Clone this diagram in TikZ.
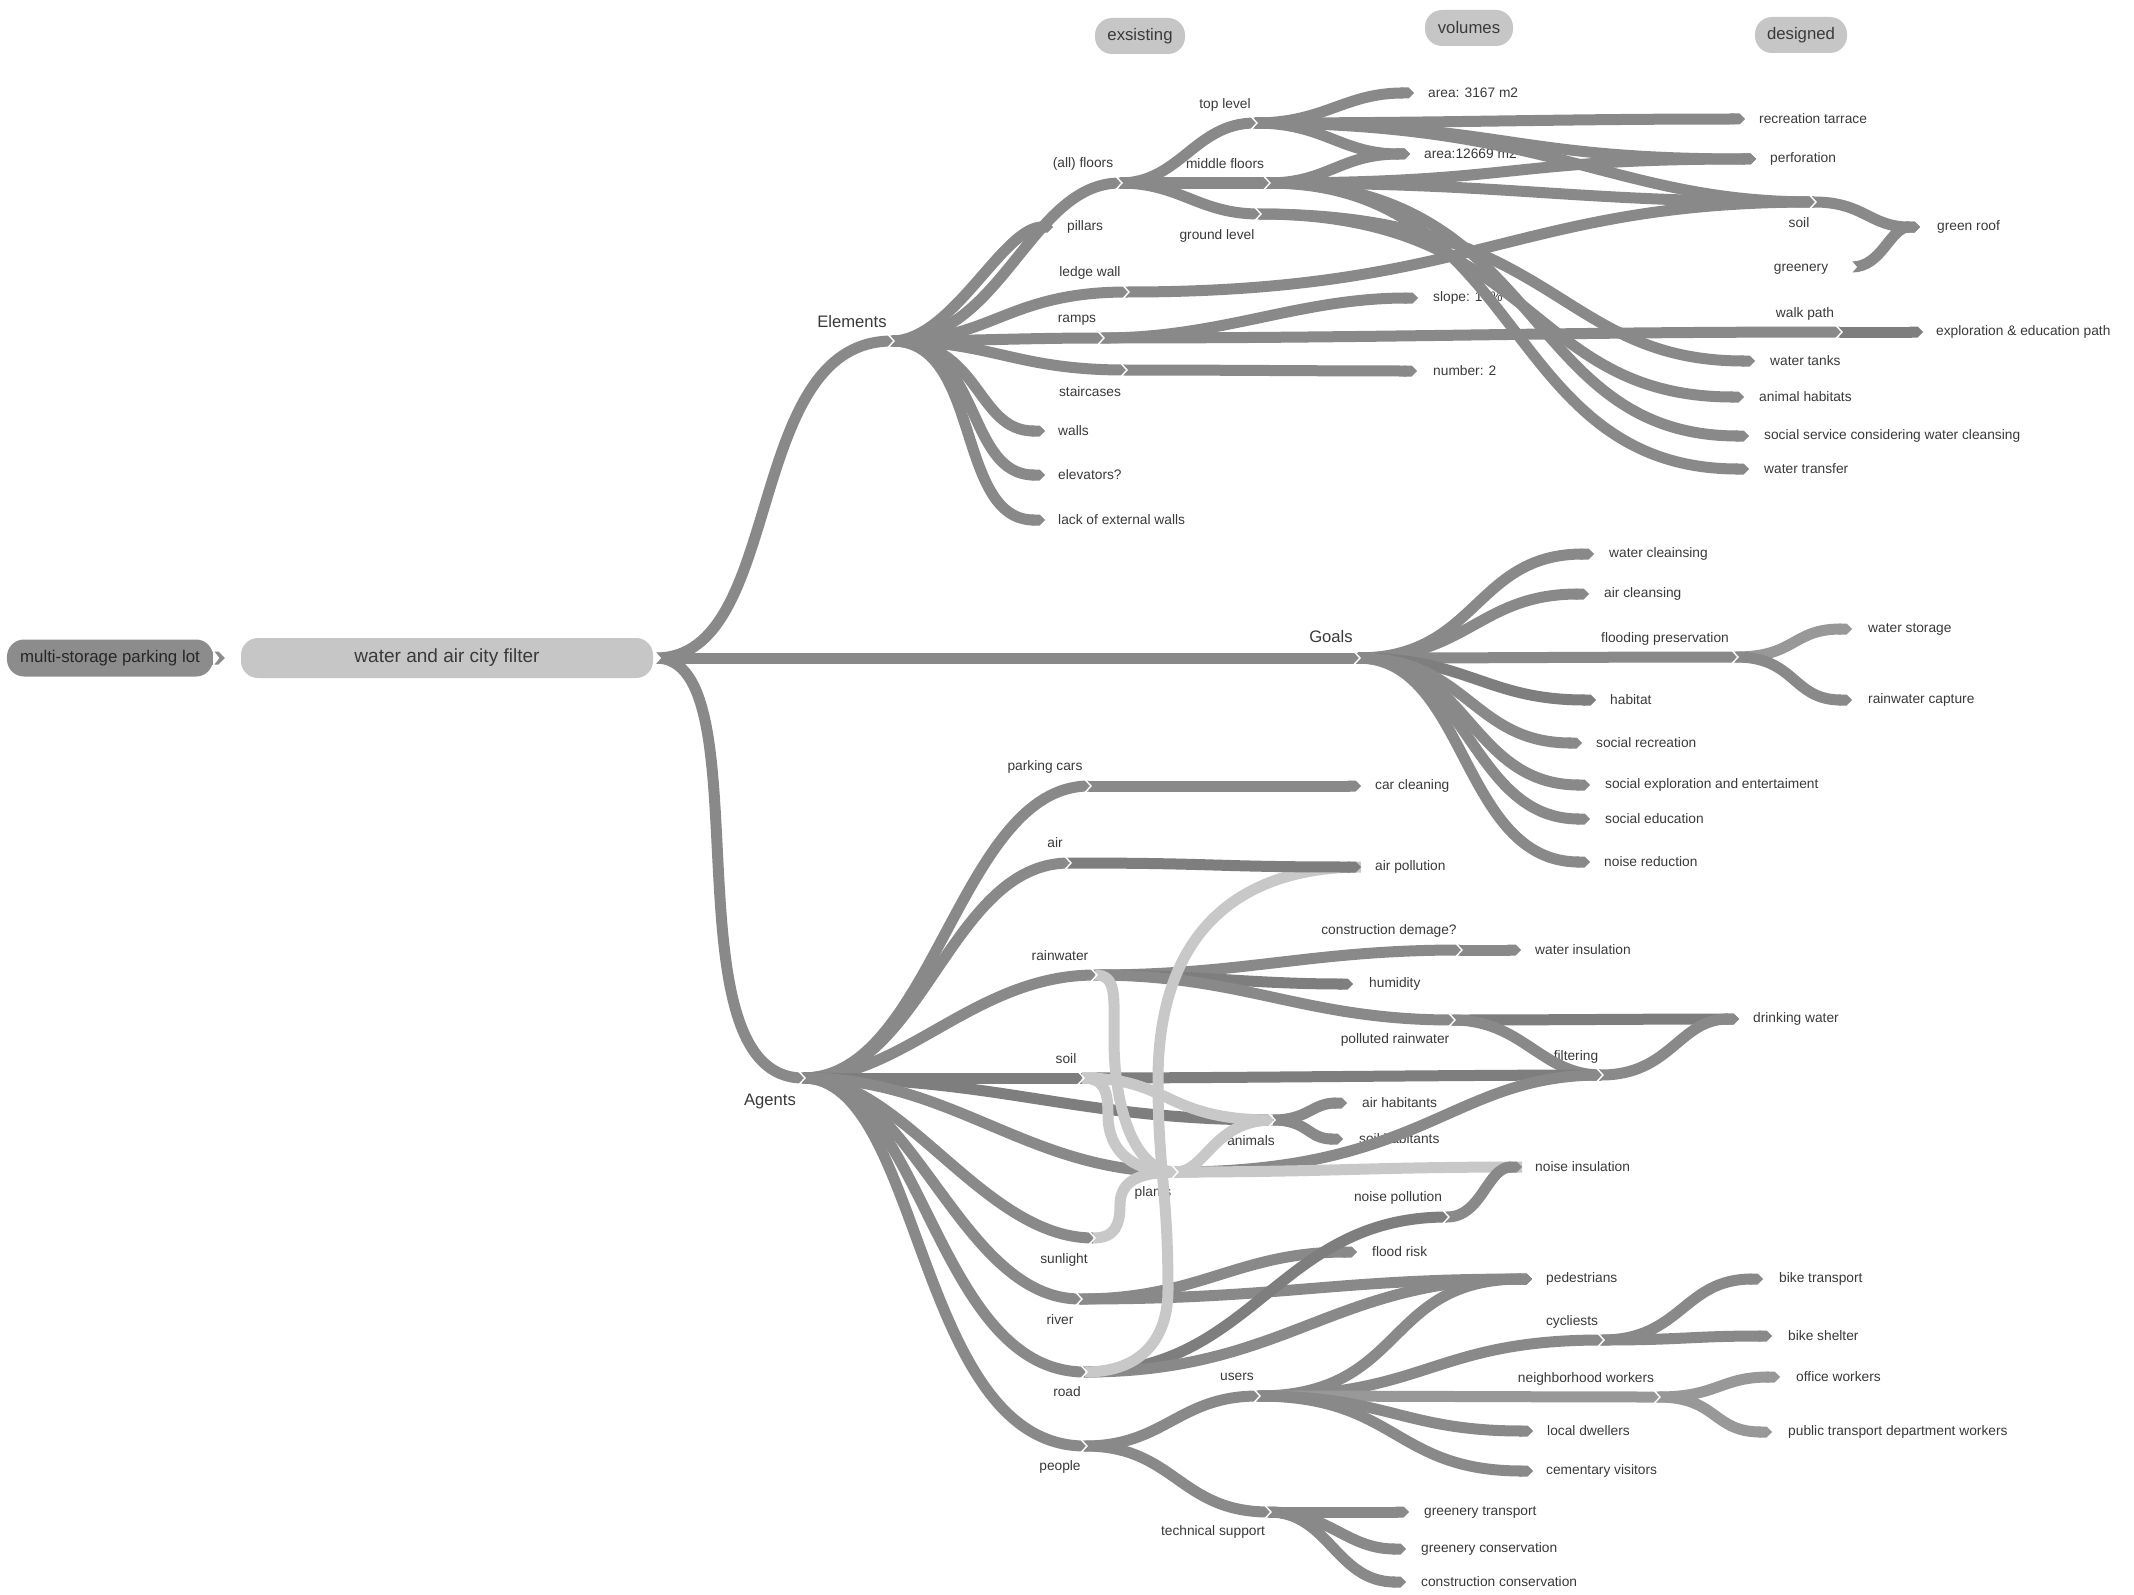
\documentclass[tikz,border=0pt]{standalone}
\usepackage{fontspec}
\setmainfont{Liberation Sans}
\usetikzlibrary{arrows.meta}
\definecolor{rg}{HTML}{898989}
\definecolor{rgd}{HTML}{7E7E7E}
\definecolor{rgl}{HTML}{989898}
\definecolor{rgp}{HTML}{C8C8C8}
\definecolor{pilld}{HTML}{8C8C8C}
\definecolor{pilll}{HTML}{C6C6C6}
\definecolor{tx}{HTML}{3A3A3A}
\tikzset{
  rib/.style={draw=rg, line width=11bp},
  endcap/.style={-{Triangle Cap}},
  pale/.style={draw=rgp},
  dk/.style={draw=rgd},
  lt/.style={draw=rgl},
  chev/.style={draw=white, line width=1.4bp, line join=miter},
  leaf/.style={text=tx, font=\fontsize{13.8}{16}\selectfont, inner sep=0pt, anchor=west},
  lab/.style={text=tx, font=\fontsize{13.8}{16}\selectfont, inner sep=0pt},
  big/.style={text=tx, font=\fontsize{16.7}{19}\selectfont, inner sep=0pt},
  pill/.style={rounded corners=17bp, inner sep=0pt, text=tx},
}
\newcommand\hub[5]{\coordinate (#1) at (#2); \node[#3] (#1-l) at (#4) {#5};}
\newcommand\term[4]{\coordinate (#1) at (#2); \node[leaf] (#1-l) at (#3) {#4};}
\newcommand\rb[5][]{\draw[rib,#1] (#2) .. controls +(#4,0) and +(-#5,0) .. (#3);}
\newcommand\rbt[5][]{\draw[rib,endcap,#1] (#2) .. controls +(#4,0) and +(-#5,0) .. (#3);}
\begin{document}
\begin{tikzpicture}[x=1bp,y=-1bp]
\useasboundingbox (0,0) rectangle (2134,1595);
\fill[white] (0,0) rectangle (2134,1595);

% pills
\node[pill, fill=pilld, minimum width=206bp, minimum height=37bp, font=\fontsize{16.9}{19}\selectfont, text=black!85] (mp) at (110,658) {multi-storage parking lot};
\node[pill, fill=pilll, minimum width=412bp, minimum height=40bp, font=\fontsize{19.1}{22}\selectfont] (wa) at (447,658) {water and air city filter};
\node[pill, fill=pilll, minimum width=90bp, minimum height=36bp, font=\fontsize{16.8}{19}\selectfont] (h1) at (1140,36) {exsisting};
\node[pill, fill=pilll, minimum width=88bp, minimum height=36bp, font=\fontsize{16.8}{19}\selectfont] (h2) at (1469,28) {volumes};
\node[pill, fill=pilll, minimum width=92bp, minimum height=36bp, font=\fontsize{16.8}{19}\selectfont] (h3) at (1801,35) {designed};

\draw[rib, draw=pilld, line width=13bp, endcap] ([xshift=1bp]mp.east) -- ([xshift=-16bp]wa.west);
\fill[white] ([shift={(0,-8)}]mp.east) -- ([shift={(6,0)}]mp.east) -- ([shift={(0,8)}]mp.east) -- cycle;

\coordinate (R) at (656,658);

% hubs
\hub{E}{892,341}{big}{852,322}{Elements}
\hub{G}{1358,658}{big}{1331,637}{Goals}
\hub{A}{803,1078}{big}{770,1101}{Agents}
\hub{F1}{1120,183}{lab}{1083,164}{(all) floors}
\hub{TL}{1255,123}{lab}{1225,105}{top level}
\hub{MF}{1268,183}{lab}{1225,164}{middle floors}
\hub{GL}{1259,214}{lab}{1217,236}{ground level}
\hub{LW}{1127,292}{lab}{1090,273}{ledge wall}
\hub{RA}{1102,338}{lab}{1077,320}{ramps}
\hub{ST}{1125,370}{lab}{1090,392}{staircases}
\hub{SL}{1814,202}{lab}{1799,223}{soil}
\hub{GY}{1852,267}{lab}{1801,269}{greenery}
\hub{WP}{1840,332}{lab}{1805,314}{walk path}
\hub{FP}{1736,657}{lab}{1665,639}{flooding preservation}
\hub{PC}{1089,786}{lab}{1045,767}{parking cars}
\hub{AI}{1069,863}{lab}{1055,843}{air}
\hub{RW}{1095,975}{lab}{1060,956}{rainwater}
\hub{CD}{1460,950}{lab}{1389,931}{construction demage?}
\hub{PR}{1453,1020}{lab}{1395,1040}{polluted rainwater}
\hub{FI}{1601,1075}{lab}{1576,1057}{filtering}
\hub{SO}{1082,1078}{lab}{1066,1059}{soil}
\hub{AN}{1273,1120}{lab}{1251,1141}{animals}
\hub{PL}{1176,1172}{lab}{1153,1193}{plants}
\hub{NP}{1447,1217}{lab}{1398,1198}{noise pollution}
\hub{SU}{1093,1238}{lab}{1064,1260}{sunlight}
\hub{RI}{1080,1299}{lab}{1060,1320}{river}
\hub{RO}{1085,1372}{lab}{1067,1392}{road}
\hub{PE}{1085,1446}{lab}{1060,1467}{people}
\hub{US}{1258,1396}{lab}{1237,1377}{users}
\hub{CY}{1602,1340}{lab}{1572,1322}{cycliests}
\hub{NW}{1658,1397}{lab}{1586,1379}{neighborhood workers}
\hub{TS}{1269,1512}{lab}{1213,1532}{technical support}

% terminals
\term{pil}{1053,227}{1067,227}{pillars}
\term{wal}{1045,431}{1058,431}{walls}
\term{ele}{1045,475}{1058,475}{elevators?}
\term{lak}{1045,520}{1058,520}{lack of external walls}
\term{a1}{1414,93}{1428,93}{area: 3167 m2}
\term{rec}{1745,119}{1759,119}{recreation tarrace}
\term{a2}{1410,154}{1424,154}{area:12669 m2}
\term{per}{1756,159}{1770,159}{perforation}
\term{slo}{1418,298}{1433,298}{slope: 13\%}
\term{num}{1417,371}{1433,371}{number: 2}
\term{grr}{1920,227}{1937,227}{green roof}
\term{exp}{1923,332}{1936,332}{exploration \& education path}
\term{wt}{1755,361}{1770,361}{water tanks}
\term{ah}{1744,397}{1759,397}{animal habitats}
\term{ss}{1749,436}{1764,436}{social service considering water cleansing}
\term{wtr}{1749,469}{1764,469}{water transfer}
\term{wc}{1594,554}{1609,554}{water cleainsing}
\term{ac}{1589,594}{1604,594}{air cleansing}
\term{ws}{1852,629}{1868,629}{water storage}
\term{rc}{1852,700}{1868,700}{rainwater capture}
\term{hab}{1596,700}{1610,700}{habitat}
\term{sr}{1582,743}{1596,743}{social recreation}
\term{se}{1590,785}{1605,785}{social exploration and entertaiment}
\term{sed}{1590,819}{1605,819}{social education}
\term{nr}{1590,862}{1604,862}{noise reduction}
\term{cc}{1361,786}{1375,786}{car cleaning}
\term{ap}{1361,867}{1375,867}{air pollution}
\term{wi}{1521,950}{1535,950}{water insulation}
\term{hu}{1353,984}{1369,984}{humidity}
\term{dw}{1739,1019}{1753,1019}{drinking water}
\term{aht}{1347,1103}{1362,1103}{air habitants}
\term{sht}{1343,1139}{1359,1139}{soil habitants}
\term{ni}{1522,1167}{1535,1167}{noise insulation}
\term{fr}{1357,1252}{1372,1252}{flood risk}
\term{ped}{1532,1279}{1546,1279}{pedestrians}
\term{bt}{1763,1279}{1779,1279}{bike transport}
\term{bs}{1772,1336}{1788,1336}{bike shelter}
\term{ow}{1780,1377}{1796,1377}{office workers}
\term{ptw}{1772,1432}{1788,1432}{public transport department workers}
\term{ld}{1533,1431}{1547,1431}{local dwellers}
\term{cv}{1533,1471}{1546,1471}{cementary visitors}
\term{gt}{1409,1512}{1424,1512}{greenery transport}
\term{gc}{1406,1549}{1421,1549}{greenery conservation}
\term{coc}{1406,1582}{1421,1582}{construction conservation}

% waypoints of the pale links
\coordinate (w1) at (1114,1040);
\coordinate (w2) at (1108,1115);
\coordinate (w3) at (1120,1205);
\coordinate (w4) at (1168,1290);
\coordinate (w5) at (1158,1080);

% root
\rb{R}{E}{130}{150}
\rb{R}{G}{200}{200}
\rb{R}{A}{110}{140}
% elements
\rb{E}{F1}{110}{90}
\rbt{E}{pil}{60}{50}
\rb{E}{LW}{100}{120}
\rb{E}{RA}{80}{80}
\rb{E}{ST}{100}{110}
\rbt{E}{wal}{90}{70}
\rbt{E}{ele}{90}{80}
\rbt{E}{lak}{90}{90}
\rb{F1}{TL}{60}{60}
\rb{F1}{MF}{50}{50}
\rb{F1}{GL}{60}{60}
\rbt{TL}{a1}{70}{70}
\rbt{TL}{rec}{200}{200}
\rbt{TL}{a2}{70}{70}
\rbt{TL}{per}{250}{250}
\rb{TL}{SL}{300}{200}
\rbt{MF}{a2}{60}{70}
\rbt{MF}{per}{250}{250}
\rb{MF}{SL}{250}{250}
\rbt{MF}{ss}{280}{230}
\rbt{MF}{wtr}{260}{250}
\rbt{GL}{wt}{300}{200}
\rbt{GL}{ah}{280}{220}
\rb{LW}{SL}{350}{300}
\rbt{RA}{slo}{120}{120}
\rb{RA}{WP}{300}{300}
\rbt{ST}{num}{100}{100}
\rbt[dk]{WP}{exp}{30}{30}
\rbt{SL}{grr}{50}{50}
\rbt{GY}{grr}{30}{30}
% goals
\rbt{G}{wc}{120}{120}
\rbt{G}{ac}{110}{110}
\rb{G}{FP}{150}{150}
\rbt[dk]{G}{hab}{110}{110}
\rbt{G}{sr}{110}{110}
\rbt{G}{se}{110}{120}
\rbt{G}{sed}{110}{120}
\rbt{G}{nr}{110}{130}
\rbt[lt]{FP}{ws}{60}{60}
\rbt{FP}{rc}{60}{60}
% agents
\rb{A}{PC}{130}{130}
\rb{A}{AI}{120}{120}
\rb{A}{RW}{100}{120}
\rb[dk]{A}{SO}{80}{80}
\rb[dk]{A}{AN}{200}{200}
\rb{A}{PL}{150}{150}
\rb{A}{SU}{100}{110}
\rb{A}{RI}{110}{120}
\rb{A}{RO}{120}{150}
\rb{A}{PE}{120}{170}
\rbt{PC}{cc}{50}{50}
\rb{RW}{CD}{150}{150}
\rbt[dk]{RW}{hu}{100}{100}
\rb{RW}{PR}{150}{150}
\rbt{CD}{wi}{20}{20}
\rbt[dk]{PR}{dw}{100}{100}
\rb{PR}{FI}{70}{60}
\rbt{FI}{dw}{70}{60}
\rb[dk]{SO}{FI}{150}{150}
\rbt{AN}{aht}{35}{35}
\rbt{AN}{sht}{35}{35}
\rb{PL}{FI}{250}{150}
\rbt{RI}{fr}{120}{120}
\rbt{RI}{ped}{200}{200}
\rb[dk]{RO}{NP}{170}{170}
\rbt{RO}{ped}{200}{200}
\rb{PE}{US}{80}{80}
\rb{PE}{TS}{90}{90}
\rbt{US}{ped}{150}{150}
\rb{US}{CY}{170}{170}
\rb[lt]{US}{NW}{100}{100}
\rbt{US}{ld}{130}{130}
\rbt{US}{cv}{140}{140}
\rbt{CY}{bt}{80}{80}
\rbt{CY}{bs}{80}{80}
\rbt[lt]{NW}{ow}{60}{60}
\rbt[lt]{NW}{ptw}{60}{60}
\rbt{TS}{gt}{30}{30}
\rbt{TS}{gc}{60}{60}
\rbt{TS}{coc}{60}{70}
% pale links
\draw[rib,pale] (RW) .. controls +(22,0) and +(0,-45) .. (w1) .. controls +(0,60) and +(-45,0) .. (PL);
\draw[rib,pale] (SO) .. controls +(22,0) and +(0,-25) .. (w2) .. controls +(0,35) and +(-45,0) .. (PL);
\draw[rib,pale] (SU) .. controls +(22,0) and +(0,20) .. (w3) .. controls +(0,-25) and +(-35,0) .. (PL);
\rb[pale]{SO}{AN}{90}{110}
\rb[pale]{PL}{AN}{30}{60}
\rb[pale]{PL}{ni}{150}{150}
\draw[rib,pale] (RO) .. controls +(60,0) and +(0,45) .. (w4) .. controls +(0,-100) and +(0,90) .. (w5) .. controls +(0,-150) and +(-120,0) .. (ap);
% dark ends over pale
\rbt[dk]{AI}{ap}{150}{150}
\rbt{NP}{ni}{35}{35}

% chevrons
\foreach \n in {E,G,A,F1,TL,MF,GL,LW,RA,ST,SL,WP,FP,PC,AI,RW,CD,PR,FI,SO,AN,PL,NP,SU,RI,RO,PE,US,CY,NW,TS}
  \draw[chev] ([shift={(-4,-6.5)}]\n) -- ([shift={(2,0)}]\n) -- ([shift={(-4,6.5)}]\n);
\foreach \n in {R,GY}
  \fill[white] ([shift={(-1,-7)}]\n) -- ([shift={(5,0)}]\n) -- ([shift={(-1,7)}]\n) -- cycle;
\end{tikzpicture}
\end{document}
